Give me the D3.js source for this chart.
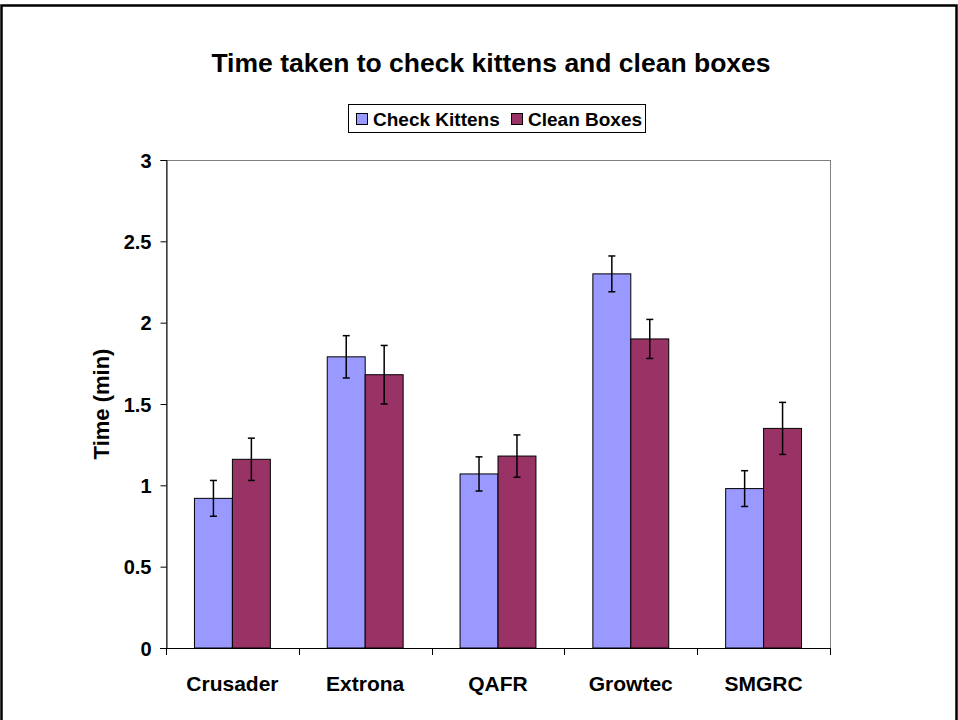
<!DOCTYPE html>
<html>
<head>
<meta charset="utf-8">
<script src="https://cdn.jsdelivr.net/npm/d3@7"></script>
<style>
  body { margin: 0; background: #fff; }
  svg { display: block; font-family: "Liberation Sans", Arial, sans-serif; }
</style>
</head>
<body>
<svg width="958" height="720"></svg>
<script>
const categories = ["Crusader", "Extrona", "QAFR", "Growtec", "SMGRC"];
const seriesNames = ["Check Kittens", "Clean Boxes"];
const checkKittens = [0.92, 1.79, 1.07, 2.30, 0.98];
const cleanBoxes = [1.16, 1.68, 1.18, 1.90, 1.35];
const checkKittensErr = [0.11, 0.13, 0.105, 0.11, 0.11];
const cleanBoxesErr = [0.13, 0.18, 0.13, 0.12, 0.16];
const yTicks = [0, 0.5, 1, 1.5, 2, 2.5, 3];
const colors = ["#9999FF", "#993366"];

const svg = d3.select("svg");

// outer frame
svg.append("path")
    .attr("d", "M1.5,722 V5.5 H956.5 V722")
    .attr("fill", "none")
    .attr("stroke", "#000")
    .attr("stroke-width", 2.5);

const plotL = 166, plotR = 830, plotT = 160, plotB = 648;

const x = d3.scaleBand().domain(categories).range([plotL, plotR]);
// Excel-style gap width 150%: bar width = band / 3.5
const barW = x.bandwidth() / 3.5;
const y = d3.scaleLinear().domain([0, 3]).range([plotB, plotT]);

// plot area border
svg.append("rect")
    .attr("x", plotL + 0.5).attr("y", plotT + 0.5)
    .attr("width", plotR - plotL).attr("height", plotB - plotT)
    .attr("fill", "none").attr("stroke", "#808080").attr("stroke-width", 1);

// title
svg.append("text")
    .attr("x", 491).attr("y", 72)
    .attr("text-anchor", "middle")
    .attr("font-size", 26.5).attr("font-weight", "bold")
    .text("Time taken to check kittens and clean boxes");

// legend
const legend = svg.append("g");
legend.append("rect")
    .attr("x", 348.5).attr("y", 104.5).attr("width", 297).attr("height", 28)
    .attr("fill", "#fff").attr("stroke", "#000").attr("stroke-width", 1);
const legendX = [356, 511];
seriesNames.forEach((s, i) => {
    legend.append("rect")
        .attr("x", legendX[i] + 0.5).attr("y", 113.5).attr("width", 11).attr("height", 11)
        .attr("fill", colors[i]).attr("stroke", "#000");
    legend.append("text")
        .attr("x", legendX[i] + 17).attr("y", 126)
        .attr("font-size", 19).attr("font-weight", "bold")
        .text(s);
});

// y axis
const yAxis = d3.axisLeft(y).tickValues(yTicks).tickSize(6).tickFormat(d => d);
const yg = svg.append("g").attr("transform", `translate(${plotL + 0.5},0)`).call(yAxis);
yg.select(".domain").attr("stroke", "#000");
yg.selectAll(".tick line").attr("stroke", "#000");
yg.selectAll(".tick text")
    .attr("font-size", 20).attr("font-weight", "bold").attr("fill", "#000")
    .attr("font-family", "Liberation Sans, Arial, sans-serif")
    .attr("x", -15).attr("dy", "0.36em");

// bars
const series = [checkKittens, cleanBoxes];
const errs = [checkKittensErr, cleanBoxesErr];
const bars = svg.append("g");
series.forEach((vals, si) => {
    vals.forEach((v, ci) => {
        const bx = x(categories[ci]) + x.bandwidth() / 2 - barW + si * barW;
        bars.append("rect")
            .attr("x", bx).attr("y", y(v))
            .attr("width", barW).attr("height", y(0) - y(v))
            .attr("fill", colors[si]).attr("stroke", "#000").attr("stroke-width", 1);
    });
});

// x axis
const xg = svg.append("g").attr("transform", `translate(0,${plotB})`);
xg.append("line").attr("x1", plotL - 6).attr("x2", plotR).attr("y1", 0.5).attr("y2", 0.5).attr("stroke", "#000");
d3.range(categories.length + 1).forEach(i => {
    const tx = Math.round(plotL + i * x.step()) + 0.5;
    xg.append("line").attr("x1", tx).attr("x2", tx).attr("y1", 0).attr("y2", 7).attr("stroke", "#000");
});
categories.forEach(c => {
    xg.append("text")
        .attr("x", x(c) + x.bandwidth() / 2).attr("y", 43)
        .attr("text-anchor", "middle")
        .attr("font-size", 21).attr("font-weight", "bold")
        .text(c);
});

// y title
svg.append("text")
    .attr("transform", "translate(109,404) rotate(-90)")
    .attr("text-anchor", "middle")
    .attr("font-size", 22).attr("font-weight", "bold")
    .text("Time (min)");

// error bars
const eg = svg.append("g").attr("stroke", "#000").attr("stroke-width", 1.5);
series.forEach((vals, si) => {
    vals.forEach((v, ci) => {
        const cx = x(categories[ci]) + x.bandwidth() / 2 - barW + si * barW + barW / 2;
        const e = errs[si][ci];
        eg.append("line").attr("x1", cx).attr("x2", cx).attr("y1", y(v + e)).attr("y2", y(v - e));
        eg.append("line").attr("x1", cx - 3.5).attr("x2", cx + 3.5).attr("y1", y(v + e)).attr("y2", y(v + e));
        eg.append("line").attr("x1", cx - 3.5).attr("x2", cx + 3.5).attr("y1", y(v - e)).attr("y2", y(v - e));
    });
});
</script>
</body>
</html>
